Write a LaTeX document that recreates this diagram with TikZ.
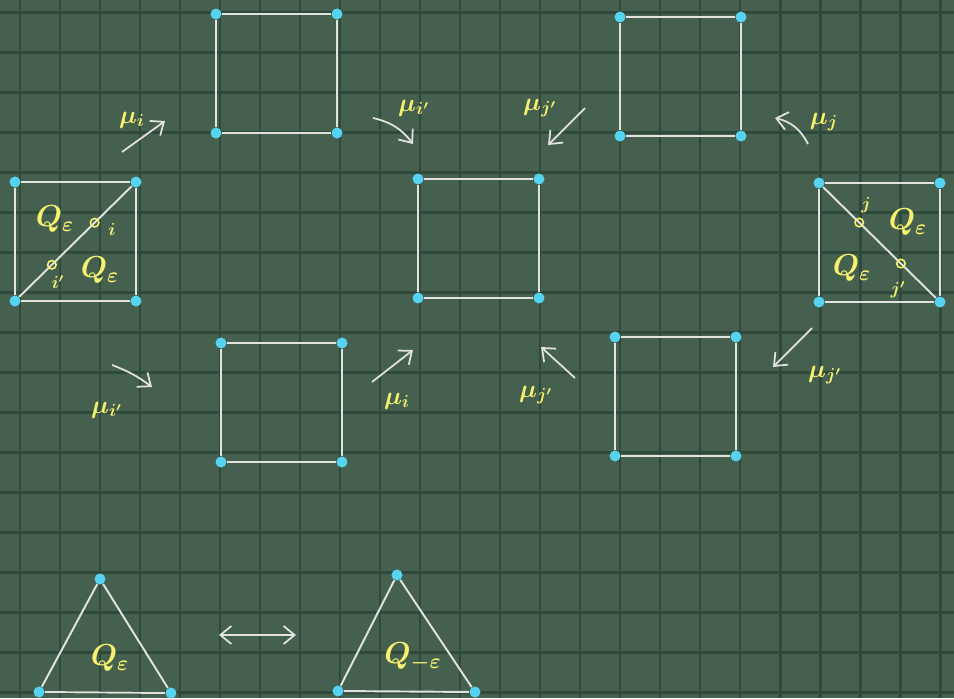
\documentclass[tikz,border=0pt]{standalone}
\usepackage{amsmath}
\usetikzlibrary{arrows.meta}
\definecolor{board}{HTML}{46604F}
\definecolor{boardline}{HTML}{2F4A3B}
\definecolor{chalk}{HTML}{E2E2DE}
\definecolor{dotcyan}{HTML}{55D3F0}
\definecolor{chalkyellow}{HTML}{F6F270}
\tikzset{
    dot/.style={circle, fill=dotcyan, inner sep=0pt, minimum size=0.22cm},
    side/.style={draw=chalk, line width=1.1pt},
    ring/.style={circle, draw=chalkyellow, line width=0.9pt, inner sep=0pt, minimum size=0.17cm},
    quiver/.style={text=chalkyellow, font=\LARGE\boldmath},
    mutlabel/.style={text=chalkyellow, font=\Large\boldmath},
    vlabel/.style={text=chalkyellow, font=\boldmath},
    mutarrow/.style={draw=chalk, line width=1pt, -{Straight Barb[length=2.2mm, width=3.6mm]}},
}

\begin{document}
\begin{tikzpicture}[x=0.02cm, y=-0.02cm]
    \useasboundingbox (0,0) rectangle (954,698);
    \fill[board] (0,0) rectangle (954,698);
    \foreach \gx in {20,60,...,940}
        \draw[boardline, line width=1.7pt] (\gx,0) -- (\gx,698);
    \foreach \gy in {12,52,...,692}
        \draw[boardline, line width=1.7pt] (0,\gy) -- (954,\gy);

    \foreach \s/\x/\y in {A/216/14, B/620/17, C/418/179, D/15/182, E/819/183, F/221/343, G/615/337} {
        \node[dot] (\s1) at (\x,\y) {};
        \node[dot] (\s2) at (\x+121,\y) {};
        \node[dot] (\s3) at (\x+121,\y+119) {};
        \node[dot] (\s4) at (\x,\y+119) {};
        \draw[side] (\s1) -- (\s2) -- (\s3) -- (\s4) -- (\s1);
    }

    \draw[side] (D4) -- node[ring, pos=0.29] (r1) {} node[ring, pos=0.67] (r2) {} (D2);
    \draw[side] (E1) -- node[ring, pos=0.32] (r3) {} node[ring, pos=0.69] (r4) {} (E3);
    \node[vlabel] at (112,229) {$i$};
    \node[vlabel] at (58,282) {$i'$};
    \node[vlabel] at (866,205) {$j$};
    \node[vlabel] at (898,290) {$j'$};
    \node[quiver] at (55,219) {$Q_\varepsilon$};
    \node[quiver] at (100,270) {$Q_\varepsilon$};
    \node[quiver] at (908,222) {$Q_\varepsilon$};
    \node[quiver] at (852,268) {$Q_\varepsilon$};

    \node[dot] (t1) at (100,579) {};
    \node[dot] (t2) at (171,693) {};
    \node[dot] (t3) at (39,692) {};
    \node[dot] (u1) at (397,575) {};
    \node[dot] (u2) at (475,692) {};
    \node[dot] (u3) at (338,691) {};
    \draw[side] (t1) -- (t2) -- (t3) -- (t1);
    \draw[side] (u1) -- (u2) -- (u3) -- (u1);
    \node[quiver] at (110,658) {$Q_\varepsilon$};
    \node[quiver] at (413,657) {$Q_{-\varepsilon}$};
    \coordinate (da) at (219,635);
    \coordinate (db) at (296,635);
    \draw[mutarrow, {Straight Barb[length=2.2mm, width=3.6mm]}-{Straight Barb[length=2.2mm, width=3.6mm]}] (da) -- (db);

    \coordinate (m1a) at (122,152);
    \coordinate (m1b) at (165,121);
    \coordinate (m2a) at (373,118);
    \coordinate (m2b) at (413,144);
    \coordinate (m3a) at (585,108);
    \coordinate (m3b) at (548,145);
    \coordinate (m4a) at (808,144);
    \coordinate (m4b) at (775,118);
    \coordinate (m5a) at (112,365);
    \coordinate (m5b) at (152,387);
    \coordinate (m6a) at (372,382);
    \coordinate (m6b) at (413,350);
    \coordinate (m7a) at (575,378);
    \coordinate (m7b) at (541,347);
    \coordinate (m8a) at (812,328);
    \coordinate (m8b) at (773,367);
    \draw[mutarrow] (m1a) -- (m1b);
    \draw[mutarrow] (m2a) to[bend left=20] (m2b);
    \draw[mutarrow] (m3a) -- (m3b);
    \draw[mutarrow] (m4a) to[bend right=25] (m4b);
    \draw[mutarrow] (m5a) to[bend left=8] (m5b);
    \draw[mutarrow] (m6a) -- (m6b);
    \draw[mutarrow] (m7a) -- (m7b);
    \draw[mutarrow] (m8a) -- (m8b);
    \node[mutlabel] at (132,120) {$\mu_{i}$};
    \node[mutlabel] at (414,108) {$\mu_{i'}$};
    \node[mutlabel] at (540,108) {$\mu_{j'}$};
    \node[mutlabel] at (824,122) {$\mu_{j}$};
    \node[mutlabel] at (107,410) {$\mu_{i'}$};
    \node[mutlabel] at (397,401) {$\mu_{i}$};
    \node[mutlabel] at (536,395) {$\mu_{j'}$};
    \node[mutlabel] at (825,375) {$\mu_{j'}$};
\end{tikzpicture}
\end{document}
